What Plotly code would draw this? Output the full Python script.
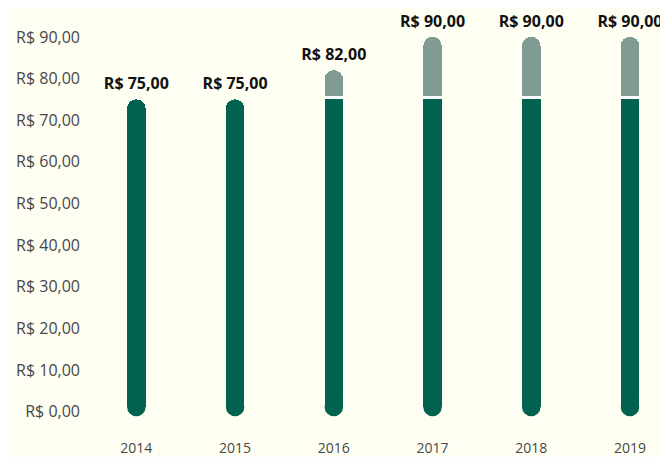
import plotly.graph_objects as go

years = ["2014", "2015", "2016", "2017", "2018", "2019"]
base_price = [75, 75, 75, 75, 75, 75]
total_price = [75, 75, 82, 90, 90, 90]
y_ticks = [0, 10, 20, 30, 40, 50, 60, 70, 80, 90]

DARK = "#00624f"
LIGHT = "#7f9b94"
BG = "#fefef2"
TXT = "#474747"


def brl(v):
    return "R&#36; " + f"{v:.2f}".replace(".", ",")


# the page has an 8px body margin, so figure pixels are window pixels minus 8
zero_px, top_px = 405.5, 29     # where 0 and 90 sit inside the figure
px_per_unit = (zero_px - top_px) / 90
pad = 4.75 / px_per_unit        # bottom cap centre, just above zero
gap = 3 / px_per_unit           # white separator

extra = [t - b for t, b in zip(total_price, base_price)]
gap_y = [gap if e > 0 else None for e in extra]
light_y = [e - gap if e > 0 else None for e in extra]
dark_y = [b - pad for b in base_price]

w = 0.187
fig = go.Figure()
fig.add_trace(go.Bar(x=years, y=[pad] * len(years), width=w,
                     marker=dict(color="rgba(0,0,0,0)", line_width=0), hoverinfo="skip"))
fig.add_trace(go.Bar(x=years, y=dark_y, width=w, marker=dict(color=DARK, line_width=0)))
fig.add_trace(go.Bar(x=years, y=gap_y, width=w, marker=dict(color="white", line_width=0)))
fig.add_trace(go.Bar(x=years, y=light_y, width=w, marker=dict(color=LIGHT, line_width=0)))
# rounded bottom caps
fig.add_trace(go.Scatter(x=years, y=[pad] * len(years), mode="markers", cliponaxis=False,
                         marker=dict(symbol="circle", size=18.5, color=DARK, line_width=0),
                         hoverinfo="skip"))
# value labels (invisible marker lifts the text off the bar end)
fig.add_trace(go.Scatter(x=years, y=total_price, mode="markers+text", cliponaxis=False,
                         text=["<b>" + brl(v) + "</b>" for v in total_price],
                         textposition="top center",
                         marker=dict(size=8, opacity=0),
                         textfont=dict(family="Open Sans", size=16, color="#111111"),
                         hoverinfo="skip"))

fig.update_layout(
    width=660, height=449,
    margin=dict(l=79, r=0, t=12, b=17),
    barmode="stack", barcornerradius="50%",
    paper_bgcolor=BG, plot_bgcolor=BG,
    showlegend=False,
    font=dict(family="Open Sans", color=TXT),
)
fig.update_xaxes(type="category", range=[-0.5, 5.385], showgrid=False, zeroline=False,
                 showline=False, tickfont=dict(size=14, color=TXT))
fig.update_yaxes(range=[-(432 - zero_px) / px_per_unit, 90 + (top_px - 12) / px_per_unit],
                 tickvals=y_ticks, ticktext=[brl(v) for v in y_ticks],
                 ticklabelstandoff=6,
                 showgrid=False, zeroline=False, showline=False,
                 tickfont=dict(size=16, color=TXT))
fig.write_html("out.html")
